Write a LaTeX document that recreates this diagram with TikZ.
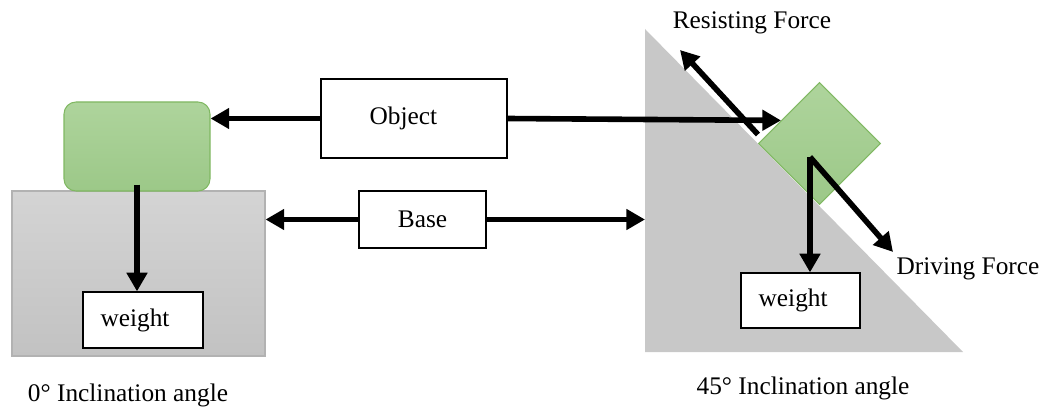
\documentclass[tikz,border=0pt]{standalone}
\usepackage{fontspec}
\setmainfont{Liberation Serif}
\usetikzlibrary{arrows.meta,calc}
\definecolor{grayA}{RGB}{212,212,212}
\definecolor{grayB}{RGB}{194,194,194}
\definecolor{grayE}{RGB}{178,178,178}
\definecolor{triG}{RGB}{200,200,200}
\definecolor{greenA}{RGB}{174,212,156}
\definecolor{greenB}{RGB}{156,200,136}
\definecolor{greenE}{RGB}{128,184,98}
\tikzset{
  lbl/.style={font=\fontsize{19}{22}\selectfont, inner sep=0pt},
  textbox/.style={draw=black, line width=0.9pt, fill=white, font=\fontsize{19}{22}\selectfont, inner sep=0pt},
  force/.style={line width=4.2pt, -{Triangle[length=14pt,width=15pt]}},
  greenobj/.style={draw=greenE, line width=0.8pt, top color=greenA, bottom color=greenB},
  graybase/.style={draw=grayE, line width=0.8pt, top color=grayA, bottom color=grayB},
}
\begin{document}
\begin{tikzpicture}[x=0.75pt,y=-0.75pt]
\path[use as bounding box] (0,0) rectangle (1046,410);
% left scene
\node[graybase, minimum width=253*0.75pt, minimum height=165*0.75pt, inner sep=0pt] (leftbase) at (138.5,273.5) {};
\node[greenobj, rounded corners=9pt, minimum width=146*0.75pt, minimum height=89*0.75pt, inner sep=0pt] (leftobj) at (137,146.5) {};
\node[textbox, minimum width=120*0.75pt, minimum height=56*0.75pt] (leftw) at (143,320) {weight\kern12pt};
% right scene: triangle
\coordinate (tA) at (645,29);
\coordinate (tB) at (645,352);
\coordinate (tC) at (963,352);
\fill[triG] (tA) -- (tB) -- (tC) -- cycle;
\node[greenobj, rotate=45, minimum width=86*0.75pt, minimum height=86*0.75pt, inner sep=0pt] (diam) at (819.5,143.5) {};
\node[textbox, minimum width=119*0.75pt, minimum height=55*0.75pt] (rightw) at (800.5,300.5) {weight\kern11pt};
% middle boxes
\node[textbox, minimum width=186*0.75pt, minimum height=79*0.75pt] (objbox) at (414,118.5) {Object\kern16pt};
\node[textbox, minimum width=127*0.75pt, minimum height=57*0.75pt] (basebox) at (422.5,219.5) {Base};
% labels
\node[lbl] (rlabel) at (752,23) {Resisting Force};
\node[lbl] (dlabel) at (968,269) {Driving Force};
\node[lbl] (cap0) at (128,395) {0° Inclination angle};
\node[lbl] (cap45) at (803,388) {45° Inclination angle};
% connectors
\draw[force] (objbox.west) -- (objbox.west -| leftobj.east);
\draw[force] (objbox.east) -- ($(diam.north)!0.25!(diam.north west)$);
\draw[force] (basebox.west) -- (basebox.west -| leftbase.east);
\draw[force] (basebox.east) -- (basebox.east -| tA);
\draw[force] ([shift={(0,-7)}]leftobj.south) -- (leftobj.south |- leftw.north);
% forces on incline
\coordinate (rf) at (680,50);
\coordinate (df) at (893,252);
\coordinate (dstart) at (810,157);
\draw[force] ([shift={(0,-9)}]diam.north west) -- (rf);
\draw[force] (dstart) -- (df);
\draw[force] (dstart) -- (dstart |- rightw.north);
\end{tikzpicture}
\end{document}
